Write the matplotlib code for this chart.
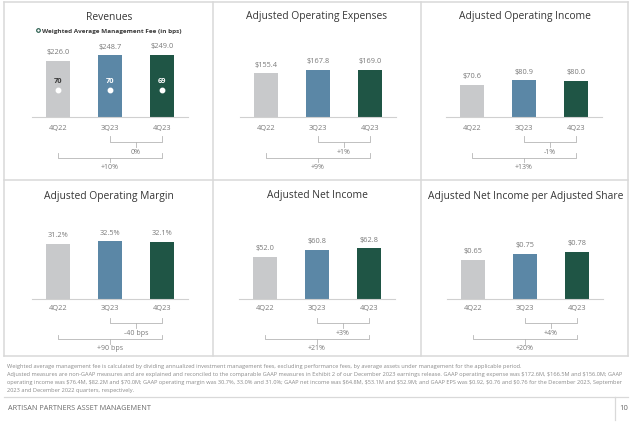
import matplotlib
matplotlib.use("Agg")
import matplotlib.pyplot as plt

plt.rcParams['font.family'] = ['Open Sans', 'DejaVu Sans']

# data
quarters = ["4Q22", "3Q23", "4Q23"]
titles = ["Revenues", "Adjusted Operating Expenses", "Adjusted Operating Income",
          "Adjusted Operating Margin", "Adjusted Net Income",
          "Adjusted Net Income per Adjusted Share"]
revenues = [226.0, 248.7, 249.0]
op_expenses = [155.4, 167.8, 169.0]
op_income = [70.6, 80.9, 80.0]
op_margin = [31.2, 32.5, 32.1]
net_income = [52.0, 60.8, 62.8]
eps = [0.65, 0.75, 0.78]
mgmt_fee = [70, 70, 69]
qoq_change = ["0%", "+1%", "-1%", "-40 bps", "+3%", "+4%"]
yoy_change = ["+10%", "+9%", "+13%", "+90 bps", "+21%", "+20%"]
formats = ["\\${:.1f}", "\\${:.1f}", "\\${:.1f}", "{:.1f}%", "\\${:.1f}", "\\${:.2f}"]
series = [revenues, op_expenses, op_income, op_margin, net_income, eps]

footnotes = [
    "Weighted average management fee is calculated by dividing annualized investment management fees, excluding performance fees, by average assets under management for the applicable period.",
    "Adjusted measures are non-GAAP measures and are explained and reconciled to the comparable GAAP measures in Exhibit 2 of our December 2023 earnings release. GAAP operating expense was \\$172.6M, \\$166.5M and \\$156.0M; GAAP",
    "operating income was \\$76.4M, \\$82.2M and \\$70.0M; GAAP operating margin was 30.7%, 33.0% and 31.0%; GAAP net income was \\$64.8M, \\$53.1M and \\$52.9M; and GAAP EPS was \\$0.92, \\$0.76 and \\$0.76 for the December 2023, September",
    "2023 and December 2022 quarters, respectively.",
]

bar_colors = ["#c8c9cb", "#5b87a6", "#1f5545"]
grid_color = "#d9d9d9"
text_gray = "#7a7a7a"
title_color = "#363636"

W, H = 640, 427
fig = plt.figure(figsize=(6.4, 4.27), dpi=100)

# overlay axes in pixel coordinates for frames, titles, brackets
ov = fig.add_axes([0, 0, 1, 1])
ov.set_xlim(0, W)
ov.set_ylim(H, 0)
ov.axis("off")

# panel grid
for y in [3, 181, 357]:
    ov.plot([4, 628], [y, y], color=grid_color, lw=1.1)
for x in [4, 213, 421, 628]:
    ov.plot([x, x], [3, 357], color=grid_color, lw=1.1)

# layout: first bar center, baseline, title y, px per unit
first_center = [58, 266, 472, 58, 265, 473]
baseline = [118, 118, 118, 299.5, 299.5, 299.5]
title_y = [17, 17, 17, 197, 196, 197]
title_x = [109, 317, 525, 109, 317, 526]
px_per_unit = [0.249, 0.28, 0.455, 1.76, 0.80, 60.0]
spacing = 52
ax_h = 70

for k in range(6):
    c0 = first_center[k]
    b = baseline[k]
    ax = fig.add_axes([(c0 - spacing / 2) / W, 1 - b / H,
                       3 * spacing / W, ax_h / H])
    vals = series[k]
    ax.bar(range(3), vals, width=0.48, color=bar_colors, zorder=2)
    ax.set_xlim(-0.5, 2.5)
    ax.set_ylim(0, ax_h / px_per_unit[k])
    for s in ["top", "left", "right"]:
        ax.spines[s].set_visible(False)
    ax.spines["bottom"].set_color("#d0d0d0")
    ax.spines["bottom"].set_linewidth(0.8)
    ax.set_yticks([])
    ax.set_xticks(range(3))
    ax.set_xticklabels(quarters, fontsize=5.3, color=text_gray)
    ax.tick_params(axis="x", length=0, pad=5 if k < 3 else 4)
    ax.patch.set_alpha(0)
    for i, v in enumerate(vals):
        ax.annotate(formats[k].format(v), xy=(i, v), xytext=(0, 6.5),
                    textcoords="offset points", ha="center", va="center",
                    fontsize=5.3, color=text_gray, annotation_clip=False)
    if k == 0:
        for i, f in enumerate(mgmt_fee):
            ax.annotate(str(f), xy=(i, 0), xytext=(0, 26.6),
                        textcoords="offset points", ha="center", va="center",
                        fontsize=5.3, fontweight="bold",
                        color="#3b3b3b" if i == 0 else "white")
            ax.plot(i, 27 / px_per_unit[k], marker="o", ms=3.2,
                    color="white", zorder=3)

    # title
    ov.text(title_x[k], title_y[k], titles[k], ha="center", va="center",
            fontsize=7.4, color=title_color)

    # change brackets
    cx = [c0 + i * spacing for i in range(3)]
    for (xa, xb, top, bot, tick, lab_y, lab) in [
            (cx[1], cx[2], b + 19, b + 24.5, b + 29.5, b + 34.5, qoq_change[k]),
            (cx[0], cx[2], b + 36, b + 40.5, b + 45, b + 49.5, yoy_change[k])]:
        ov.plot([xa, xa, xb, xb], [top, bot, bot, top], color="#b5b5b5", lw=0.6)
        mid = (xa + xb) / 2
        ov.plot([mid, mid], [bot, tick], color="#b5b5b5", lw=0.6)
        ov.text(mid, lab_y, lab, ha="center", va="center", fontsize=5,
                color=text_gray)

# legend for management fee
ov.plot(38, 31, marker="o", ms=2.6, mfc="white", mec="#1f5545", mew=0.8)
ov.text(42, 31, "Weighted Average Management Fee (in bps)", ha="left",
        va="center", fontsize=4.6, fontweight="bold", color="#3b3b3b")

# footnotes
for i, line in enumerate(footnotes):
    ov.text(7, 367 + i * 8, line, ha="left", va="center", fontsize=4.1,
            color="#8a8a8a")

# footer
ov.plot([4, 628], [398, 398], color=grid_color, lw=0.9)
ov.plot([615, 615], [398, 421], color=grid_color, lw=0.9)
ov.text(8, 409, "ARTISAN PARTNERS ASSET MANAGEMENT", ha="left", va="center",
        fontsize=5.2, color="#6a6a6a")
ov.text(624, 409, "10", ha="center", va="center", fontsize=5.5, color="#6a6a6a")

fig.savefig("out.png", dpi=100)
